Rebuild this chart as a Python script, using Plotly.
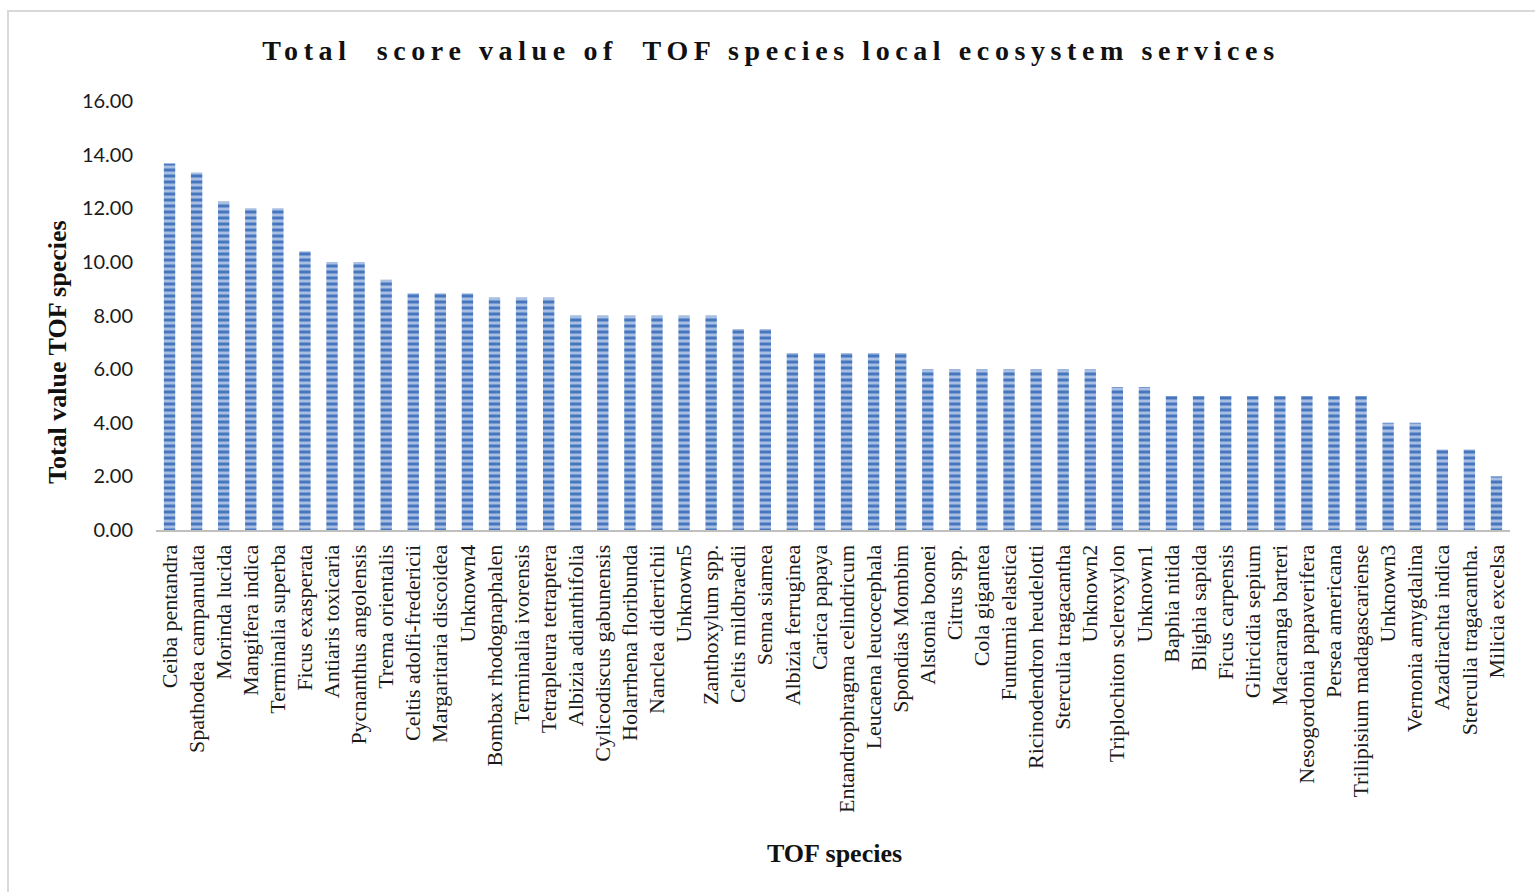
import plotly.graph_objects as go

# Tree species outside forests (TOF) and their summed ecosystem-service scores
species = [
    "Ceiba pentandra", "Spathodea campanulata", "Morinda lucida", "Mangifera indica",
    "Terminalia superba", "Ficus exasperata", "Antiaris toxicaria", "Pycnanthus angolensis",
    "Trema orientalis", "Celtis adolfi-fredericii", "Margaritaria discoidea", "Unknown4",
    "Bombax rhodognaphalen", "Terminalia ivorensis", "Tetrapleura tetraptera",
    "Albizia adianthifolia", "Cylicodiscus gabunensis", "Holarrhena floribunda",
    "Nanclea diderrichii", "Unknown5", "Zanthoxylum spp.", "Celtis mildbraedii",
    "Senna siamea", "Albizia ferruginea", "Carica papaya", "Entandrophragma celindricum",
    "Leucaena leucocephala", "Spondias Mombim", "Alstonia boonei", "Citrus spp.",
    "Cola gigantea", "Funtumia elastica", "Ricinodendron heudelotti", "Sterculia tragacantha",
    "Unknown2", "Triplochiton scleroxylon", "Unknown1", "Baphia nitida", "Blighia sapida",
    "Ficus carpensis", "Gliricidia sepium", "Macaranga barteri", "Nesogordonia papaverifera",
    "Persea americana", "Trilipisium madagascariense", "Unknown3", "Vernonia amygdalina",
    "Azadirachta indica", "Sterculia tragacantha.", "Milicia excelsa",
]

scores = [
    13.67, 13.33, 12.25, 12.00, 12.00, 10.40, 10.00, 10.00, 9.33, 8.83, 8.83, 8.83,
    8.67, 8.67, 8.67, 8.00, 8.00, 8.00, 8.00, 8.00, 8.00, 7.50, 7.50, 6.60, 6.60, 6.60,
    6.60, 6.60, 6.00, 6.00, 6.00, 6.00, 6.00, 6.00, 6.00, 5.33, 5.33, 5.00, 5.00, 5.00,
    5.00, 5.00, 5.00, 5.00, 5.00, 4.00, 4.00, 3.00, 3.00, 2.00,
]

y_ticks = [0, 2, 4, 6, 8, 10, 12, 14, 16]

chart_title = "Total  score value of  TOF species local ecosystem services"
y_title = "Total value TOF species"
x_title = "TOF species"

W, H = 1535, 892
L, R, T, B = 156, 25, 101, 362
pw, ph = W - L - R, H - T - B

def px_x(x):
    return (x - L) / pw

def px_y(y):
    return (H - B - y) / ph

fig = go.Figure(
    go.Bar(
        x=species,
        y=scores,
        width=0.42,
        marker=dict(
            color="#a8bfe3",
            line=dict(width=0),
            pattern=dict(
                shape="-",
                fillmode="replace",
                bgcolor="#a8bfe3",
                fgcolor="#4677be",
                size=6,
                solidity=0.5,
            ),
        ),
        hovertemplate="%{x}: %{y:.2f}<extra></extra>",
    )
)

fig.update_layout(
    width=W,
    height=H,
    margin=dict(l=L, r=R, t=T, b=B),
    paper_bgcolor="white",
    plot_bgcolor="white",
    showlegend=False,
    title=dict(
        text=f'<b><span style="letter-spacing:5.6px">{chart_title}</span></b>',
        x=771 / W,
        xanchor="center",
        xref="container",
        y=1 - 50 / H,
        yref="container",
        yanchor="middle",
        font=dict(family="Liberation Serif", size=28, color="#111111"),
    ),
    xaxis=dict(
        type="category",
        tickmode="array",
        tickvals=species,
        ticktext=species,
        tickangle=-90,
        tickfont=dict(family="Liberation Serif", size=22, color="#1a1a1a"),
        showline=True,
        linecolor="#bfbfbf",
        linewidth=2,
        showgrid=False,
        ticks="",
        ticklabelstandoff=4,
        range=[-0.5, len(species) - 0.5],
    ),
    yaxis=dict(
        range=[0, 16],
        tickvals=y_ticks,
        tickformat=".2f",
        tickfont=dict(family="Lato", size=20, color="#1a1a1a"),
        showgrid=False,
        showline=False,
        zeroline=False,
        ticks="",
        ticklabelstandoff=22,
    ),
    annotations=[
        dict(
            text=f"<b>{y_title}</b>",
            textangle=-90,
            xref="paper", yref="paper",
            x=px_x(57), y=px_y(352),
            xanchor="center", yanchor="middle",
            showarrow=False,
            font=dict(family="Liberation Serif", size=26, color="#111111"),
        ),
        dict(
            text=f"<b>{x_title}</b>",
            xref="paper", yref="paper",
            x=px_x(834), y=px_y(853),
            xanchor="center", yanchor="middle",
            showarrow=False,
            font=dict(family="Liberation Serif", size=26, color="#111111"),
        ),
    ],
    shapes=[
        dict(
            type="rect",
            xref="paper", yref="paper",
            x0=px_x(8), x1=px_x(W + 10),
            y0=px_y(H + 10), y1=px_y(11),
            line=dict(color="#d9d9d9", width=2),
            fillcolor="rgba(0,0,0,0)",
            layer="below",
        )
    ],
)

fig.write_html("out.html")
